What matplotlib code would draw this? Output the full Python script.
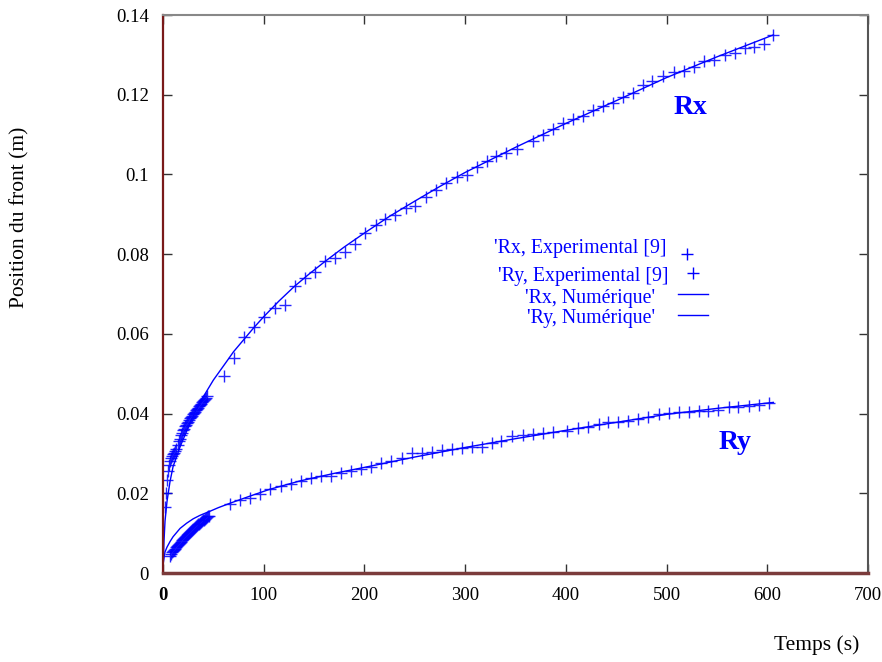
import numpy as np
import matplotlib
matplotlib.use("Agg")
import matplotlib.pyplot as plt

plt.rcParams['font.family'] = ['Liberation Serif', 'DejaVu Serif']

# experimental front position Rx (s, m)
rx_exp_t = [2, 3, 4, 5, 6, 7, 8, 9, 10, 11, 12, 13, 15, 16, 17, 18, 19, 20, 21, 22,
            23, 24, 25, 26, 27, 28, 29, 30, 31, 32, 33, 34, 35, 36, 37, 38, 39, 40,
            41, 42, 43, 44,
            61, 70.5, 80.7, 90.7, 100.6, 111, 121, 131, 141, 151, 161, 171, 181,
            190.7, 200.6, 211, 220.5, 230, 241, 250, 261, 271, 281, 291.6, 301.6,
            311.5, 321.5, 331, 341, 351, 367, 377, 387, 397.6, 407, 417, 427, 437,
            447, 457, 467, 477, 486, 496, 507, 517, 527, 537, 547, 558, 568, 578,
            587, 597, 606]
rx_exp_y = [0.0166, 0.0200, 0.0233, 0.0255, 0.0270, 0.0280, 0.0288, 0.0293, 0.0298,
            0.0302, 0.0305, 0.0310, 0.0322, 0.0330, 0.0336, 0.0345, 0.0352, 0.0358,
            0.0362, 0.0368, 0.0372, 0.0376, 0.0380, 0.0384, 0.0388, 0.0391, 0.0395,
            0.0398, 0.0401, 0.0405, 0.0408, 0.0411, 0.0415, 0.0418, 0.0422, 0.0425,
            0.0428, 0.0431, 0.0434, 0.0437, 0.0440, 0.0443,
            0.0494, 0.0539, 0.0591, 0.0618, 0.0643, 0.0666, 0.0672, 0.0720, 0.0739,
            0.0756, 0.0783, 0.0791, 0.0805, 0.0825, 0.0852, 0.0873, 0.0888, 0.0898,
            0.0915, 0.0921, 0.0944, 0.0961, 0.0978, 0.0993, 0.0998, 0.1019, 0.1034,
            0.1046, 0.1053, 0.1065, 0.1085, 0.1099, 0.1113, 0.1130, 0.1138, 0.1147,
            0.1162, 0.1172, 0.1180, 0.1195, 0.1205, 0.1224, 0.1234, 0.1247, 0.1258,
            0.1259, 0.1270, 0.1285, 0.1287, 0.1300, 0.1304, 0.1316, 0.1320, 0.1327,
            0.1350]

# experimental front position Ry (s, m)
ry_exp_t = [7, 8, 9, 10, 11, 12, 13, 14, 15, 16, 17, 18, 19, 20, 21, 22, 23, 24, 25,
            26, 27, 28, 29, 30, 31, 32, 33, 34, 35, 36, 37, 38, 39, 40, 41, 42, 43,
            44, 45, 46,
            66.5, 76.5, 86.4, 96, 106, 117, 127, 137, 147, 157, 167, 177, 187, 197,
            207, 216.5, 226.4, 237, 247, 257, 267, 277, 287, 297, 306.5, 316.5,
            326.4, 336, 347, 357, 367, 377.6, 387.6, 401, 412, 422, 433, 442, 452,
            462, 472, 482, 492, 502, 512, 522, 532, 541.5, 551.5, 562, 571, 582,
            592, 602]
ry_exp_y = [0.0042, 0.0048, 0.0052, 0.0055, 0.0058, 0.0061, 0.0064, 0.0067, 0.0070,
            0.0073, 0.0076, 0.0079, 0.0082, 0.0085, 0.0088, 0.0090, 0.0093, 0.0096,
            0.0098, 0.0101, 0.0103, 0.0106, 0.0108, 0.0110, 0.0113, 0.0115, 0.0117,
            0.0120, 0.0122, 0.0124, 0.0126, 0.0128, 0.0130, 0.0132, 0.0134, 0.0136,
            0.0138, 0.0140, 0.0142, 0.0144,
            0.0172, 0.0182, 0.0189, 0.0198, 0.0211, 0.0218, 0.0223, 0.0232, 0.0238,
            0.0243, 0.0243, 0.0252, 0.0257, 0.0260, 0.0267, 0.0277, 0.0282, 0.0288,
            0.0300, 0.0302, 0.0304, 0.0309, 0.0310, 0.0313, 0.0315, 0.0317, 0.0325,
            0.0332, 0.0344, 0.0346, 0.0350, 0.0352, 0.0354, 0.0357, 0.0363, 0.0367,
            0.0374, 0.0378, 0.0380, 0.0382, 0.0386, 0.0392, 0.0398, 0.0402, 0.0403,
            0.0405, 0.0406, 0.0406, 0.0409, 0.0416, 0.0416, 0.0419, 0.0421, 0.0427]

# numerical curves
rx_num_t = [0, 1, 2, 4, 7, 10, 17, 25, 32, 40, 50, 63, 70, 80, 90, 100, 115, 130,
            145, 160, 180, 200, 225, 250, 275, 300, 350, 400, 450, 500, 550, 606]
rx_num_y = [0.0, 0.008, 0.013, 0.018, 0.023, 0.0267, 0.0317, 0.0365, 0.0405, 0.0442,
            0.0484, 0.0530, 0.0555, 0.0585, 0.0615, 0.0643, 0.0682, 0.0718, 0.0750,
            0.0780, 0.0818, 0.0853, 0.0895, 0.0933, 0.0970, 0.1005, 0.1068, 0.1128,
            0.1185, 0.1243, 0.1295, 0.135]
ry_num_t = [0, 1, 2, 4, 7, 10, 17, 23.5, 30, 37, 46.7, 55, 66.5, 86.4, 106, 136,
            170, 200, 250, 300, 350, 400, 450, 500, 550, 606]
ry_num_y = [0.002, 0.0038, 0.0053, 0.0065, 0.0079, 0.0091, 0.0112, 0.0125, 0.0136,
            0.0145, 0.0155, 0.0164, 0.0175, 0.0193, 0.0210, 0.0231, 0.0250, 0.0265,
            0.0291, 0.0315, 0.0337, 0.0358, 0.0378, 0.0398, 0.0413, 0.0428]

blue = '#0000ff'

fig = plt.figure(figsize=(8.82, 6.62), dpi=100)
ax = fig.add_axes([163 / 882, 89 / 662, 705 / 882, 558 / 662])

ax.plot(rx_exp_t, rx_exp_y, '+', color=blue, ms=8, mew=1, alpha=0.85)
ax.plot(ry_exp_t, ry_exp_y, '+', color=blue, ms=8, mew=1, alpha=0.85)
ax.plot(rx_num_t, rx_num_y, '-', color=blue, lw=1)
ax.plot(ry_num_t, ry_num_y, '-', color=blue, lw=1)

ax.set_xlim(0, 700)
ax.set_ylim(0, 0.14)
ax.set_xticks(np.arange(0, 701, 100))
ax.set_yticks([0, 0.02, 0.04, 0.06, 0.08, 0.1, 0.12, 0.14])
ax.set_yticklabels(['0', '0.02', '0.04', '0.06', '0.08', '0.1', '0.12', '0.14'])
ax.tick_params(direction='in', length=6.5, width=1, top=True, right=True,
               labelsize=13.5, pad=10, colors='#333333', labelcolor='black')
ax.get_xticklabels()[0].set_fontweight('bold')

ax.spines['left'].set_color('#7a1a1a')
ax.spines['left'].set_linewidth(1.6)
ax.spines['bottom'].set_color('#7b3b3b')
ax.spines['bottom'].set_linewidth(2.5)
ax.spines['top'].set_color('#888888')
ax.spines['top'].set_linewidth(1.5)
ax.spines['right'].set_color('#555555')
ax.spines['right'].set_linewidth(1.5)

fig.text(20 / 882, 1 - 217 / 662, 'Position du front (m)', rotation=90,
         ha='center', va='center', fontsize=15.5)
fig.text(817 / 882, 1 - 645 / 662, 'Temps (s)', ha='center', va='center', fontsize=15.5)

ax.text(0.7475, 0.835, 'Rx', transform=ax.transAxes, color=blue, fontsize=20,
        fontweight='bold', ha='center', va='center')
ax.text(0.811, 0.233, 'Ry', transform=ax.transAxes, color=blue, fontsize=20,
        fontweight='bold', ha='center', va='center')

# legend drawn by hand to keep the right-aligned look
leg = [("'Rx, Experimental [9]", 667, 248, 'marker', 687, 254),
       ("'Ry, Experimental [9]", 668, 277, 'marker', 693, 273),
       ("'Rx, Numérique'", 655, 298, 'line', 693, 294),
       ("'Ry, Numérique'", 655, 318, 'line', 693, 315)]
for label, tx, ty, kind, hx, hy in leg:
    fig.text(tx / 882, 1 - ty / 662, label, ha='right', va='center',
             color=blue, fontsize=14.3)
    if kind == 'marker':
        fig.lines.append(plt.Line2D([hx / 882], [1 - hy / 662], marker='+',
                                    color=blue, ms=8, mew=1, ls='none',
                                    transform=fig.transFigure))
    else:
        fig.lines.append(plt.Line2D([(hx - 15) / 882, (hx + 15) / 882],
                                    [1 - hy / 662, 1 - hy / 662], color=blue,
                                    lw=1, transform=fig.transFigure))

fig.savefig('out.png', dpi=100)
